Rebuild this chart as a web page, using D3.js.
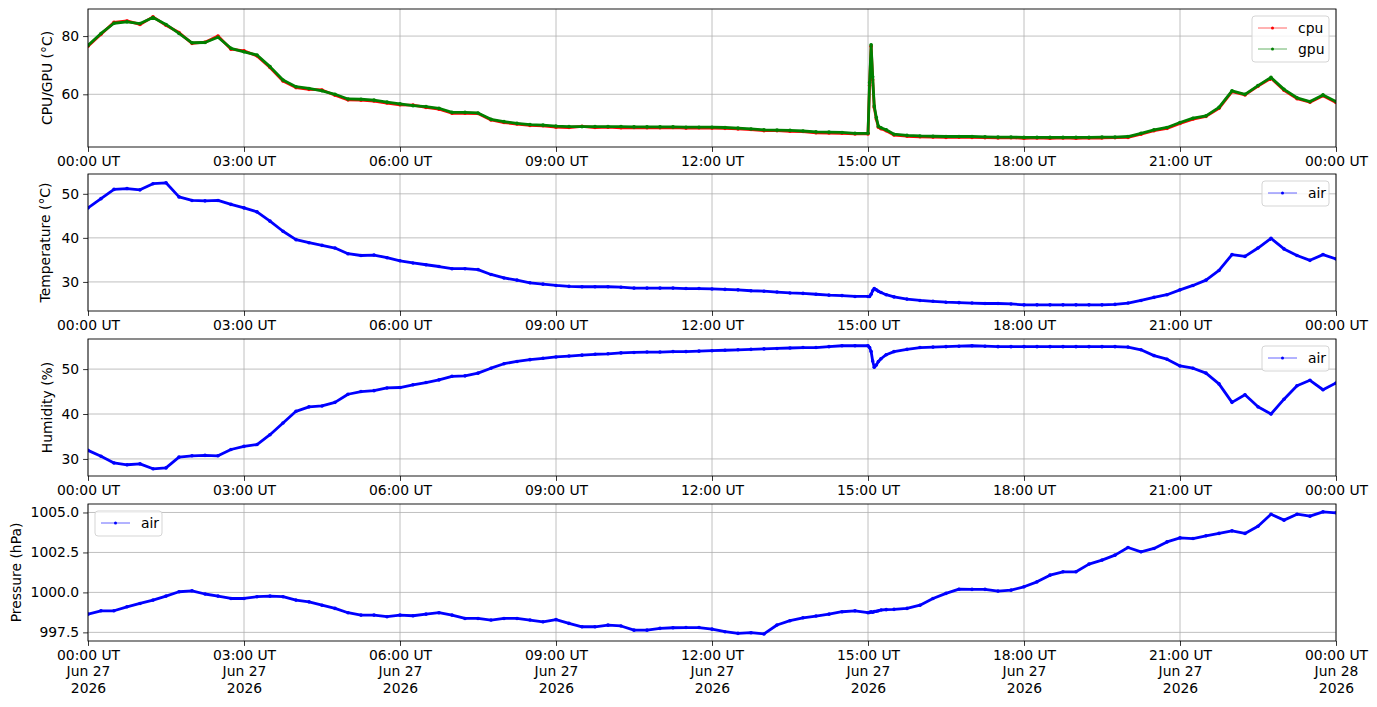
<!DOCTYPE html>
<html>
<head>
<meta charset="utf-8">
<script src="https://cdn.jsdelivr.net/npm/d3@7"></script>
<style>
  body { margin: 0; background: #fff; }
  svg text { font-family: "DejaVu Sans", sans-serif; font-size: 13.9px; fill: #000; }
  .grid line { stroke: #b0b0b0; stroke-width: 0.8; }
  .axis path.domain { display: none; }
  .axis line { stroke: #000; stroke-width: 0.8; }
</style>
</head>
<body>
<div id="chart"></div>
<script>
// sample times, hours after 00:00 UT on Jun 27 2026 (extra samples around the 15:00 spike)
const hours = [
  0, 0.25, 0.5, 0.75, 1, 1.25, 1.5, 1.75, 2, 2.25, 2.5, 2.75,
  3, 3.25, 3.5, 3.75, 4, 4.25, 4.5, 4.75, 5, 5.25, 5.5, 5.75,
  6, 6.25, 6.5, 6.75, 7, 7.25, 7.5, 7.75, 8, 8.25, 8.5, 8.75,
  9, 9.25, 9.5, 9.75, 10, 10.25, 10.5, 10.75, 11, 11.25, 11.5, 11.75,
  12, 12.25, 12.5, 12.75, 13, 13.25, 13.5, 13.75, 14, 14.25, 14.5, 14.75,
  15, 15.03, 15.06, 15.09, 15.12, 15.16, 15.2, 15.25, 15.35,
  15.5, 15.75,
  16, 16.25, 16.5, 16.75, 17, 17.25, 17.5, 17.75, 18, 18.25, 18.5, 18.75,
  19, 19.25, 19.5, 19.75, 20, 20.25, 20.5, 20.75, 21, 21.25, 21.5, 21.75,
  22, 22.25, 22.5, 22.75, 23, 23.25, 23.5, 23.75,
  24
]

const cpuTemp = [
  76.5, 80.6, 84.7, 85.2, 84.0, 86.6, 83.7, 81.2, 77.5, 77.9, 80.0, 75.5,
  74.9, 73.2, 69.2, 64.6, 62.3, 61.7, 61.5, 59.7, 58.1, 58.0, 57.7, 57.0,
  56.4, 56.3, 55.5, 54.9, 53.5, 53.5, 53.4, 51.2, 50.3, 49.8, 49.3, 49.2,
  48.7, 48.6, 49.0, 48.6, 48.7, 48.5, 48.6, 48.5, 48.5, 48.6, 48.4, 48.5,
  48.4, 48.3, 48.1, 47.9, 47.5, 47.5, 47.3, 47.2, 46.8, 46.7, 46.6, 46.4,
  46.4, 63.0, 76.5, 65.0, 55.5, 51.5, 48.7, 48.2, 47.5,
  46.0, 45.6,
  45.4, 45.3, 45.2, 45.3, 45.2, 45.1, 45.0, 45.1, 44.9, 45.0, 44.9, 45.0,
  44.9, 45.0, 45.0, 45.1, 45.2, 46.3, 47.5, 48.3, 50.0, 51.5, 52.4, 55.2,
  60.9, 59.8, 62.8, 65.5, 61.4, 58.5, 57.3, 59.5,
  57.2
]

const gpuTemp = [
  76.8, 80.9, 84.4, 84.9, 84.3, 86.4, 84.0, 80.9, 77.7, 77.8, 79.6, 75.8,
  74.6, 73.5, 69.5, 64.9, 62.6, 62.0, 61.2, 60.0, 58.4, 58.3, 58.0, 57.3,
  56.7, 56.1, 55.8, 55.2, 53.8, 53.8, 53.6, 51.4, 50.6, 50.0, 49.6, 49.4,
  49.1, 48.9, 48.9, 48.9, 48.9, 48.9, 48.8, 48.8, 48.8, 48.8, 48.7, 48.7,
  48.7, 48.6, 48.4, 48.1, 47.8, 47.7, 47.6, 47.4, 47.1, 47.0, 46.9, 46.6,
  46.6, 64.0, 77.0, 66.0, 56.0, 52.0, 49.0, 48.5, 47.8,
  46.3, 45.9,
  45.7, 45.6, 45.5, 45.5, 45.5, 45.4, 45.3, 45.3, 45.2, 45.2, 45.2, 45.2,
  45.2, 45.2, 45.3, 45.3, 45.5, 46.6, 47.8, 48.6, 50.3, 51.8, 52.6, 55.5,
  61.2, 60.0, 63.0, 65.8, 61.7, 58.8, 57.5, 59.8,
  57.5
]

const airTemp = [
  46.8, 48.9, 51.0, 51.2, 50.9, 52.3, 52.5, 49.3, 48.5, 48.4, 48.5, 47.6,
  46.8, 45.9, 43.8, 41.5, 39.6, 38.9, 38.3, 37.7, 36.4, 36.0, 36.1, 35.5,
  34.8, 34.3, 33.9, 33.5, 33.0, 33.0, 32.8, 31.7, 30.9, 30.4, 29.8, 29.5,
  29.2, 29.0, 28.9, 28.9, 28.9, 28.8, 28.6, 28.6, 28.6, 28.6, 28.5, 28.5,
  28.4, 28.3, 28.2, 28.0, 27.9, 27.7, 27.5, 27.4, 27.2, 27.0, 26.9, 26.7,
  26.7, 26.7, 27.2, 28.0, 28.5, 28.2, 27.9, 27.6, 27.1,
  26.6, 26.1,
  25.8, 25.6, 25.4, 25.3, 25.2, 25.1, 25.1, 25.0, 24.8, 24.8, 24.8, 24.8,
  24.8, 24.8, 24.8, 24.9, 25.2, 25.8, 26.5, 27.1, 28.2, 29.2, 30.4, 32.6,
  36.2, 35.8, 37.7, 39.9, 37.5, 36.0, 34.9, 36.2,
  35.2
]

const airHumidity = [
  31.9, 30.6, 29.1, 28.7, 28.9, 27.8, 28.0, 30.4, 30.7, 30.8, 30.7, 32.1,
  32.8, 33.2, 35.4, 38.0, 40.6, 41.6, 41.8, 42.6, 44.4, 45.0, 45.2, 45.8,
  45.9, 46.5, 47.0, 47.6, 48.4, 48.5, 49.1, 50.2, 51.2, 51.7, 52.1, 52.4,
  52.7, 52.9, 53.1, 53.3, 53.4, 53.6, 53.7, 53.8, 53.8, 53.9, 53.9, 54.0,
  54.1, 54.2, 54.3, 54.4, 54.5, 54.6, 54.7, 54.8, 54.8, 55.0, 55.2, 55.2,
  55.2, 54.8, 53.9, 51.8, 50.4, 50.9, 51.7, 52.3, 53.2,
  53.9, 54.4,
  54.8, 54.9, 55.0, 55.1, 55.2, 55.1, 55.0, 55.0, 55.0, 55.0, 55.0, 55.0,
  55.0, 55.0, 55.0, 55.0, 54.9, 54.3, 53.0, 52.2, 50.7, 50.2, 49.1, 46.7,
  42.6, 44.3, 41.6, 40.0, 43.3, 46.3, 47.5, 45.4,
  46.9
]

const airPressure = [
  998.64, 998.85, 998.85, 999.10, 999.31, 999.52, 999.77, 1000.04, 1000.10, 999.90, 999.77, 999.62,
  999.62, 999.73, 999.77, 999.73, 999.52, 999.41, 999.20, 999.00, 998.73, 998.58, 998.58, 998.48,
  998.58, 998.54, 998.64, 998.73, 998.58, 998.37, 998.37, 998.27, 998.37, 998.37, 998.27, 998.16,
  998.30, 998.06, 997.85, 997.85, 997.95, 997.90, 997.64, 997.64, 997.75, 997.79, 997.80, 997.80,
  997.70, 997.54, 997.44, 997.48, 997.40, 997.96, 998.23, 998.41, 998.52, 998.64, 998.79, 998.85,
  998.73, 998.75, 998.78, 998.76, 998.80, 998.82, 998.85, 998.90, 998.92,
  998.94, 999.00,
  999.20, 999.62, 999.94, 1000.20, 1000.19, 1000.19, 1000.08, 1000.14, 1000.35, 1000.66, 1001.08, 1001.29,
  1001.29, 1001.77, 1002.02, 1002.33, 1002.81, 1002.54, 1002.75, 1003.16, 1003.41, 1003.37, 1003.54, 1003.69,
  1003.85, 1003.69, 1004.14, 1004.89, 1004.52, 1004.89, 1004.77, 1005.04,
  1004.98
]

// x ticks every 3 hours, y ticks per panel
const tickHours = [0, 3, 6, 9, 12, 15, 18, 21, 24]
const cpuTicks = [60, 80],
      tempTicks = [30, 40, 50],
      humTicks = [30, 40, 50],
      presTicks = [997.5, 1000.0, 1002.5, 1005.0]

const W = 1377, H = 707,
      left = 88, right = 1336,
      tick = 4.9
const t0 = Date.UTC(2026, 5, 27)
const toDate = h => new Date(t0 + h * 3600e3)

const x = d3.scaleUtc()
  .domain([toDate(0), toDate(24)])
  .range([left, right])

const fmtTime = d3.utcFormat("%H:%M UT"),
      fmtDay = d3.utcFormat("%b %d"),
      fmtYear = d3.utcFormat("%Y")

const panels = [
  {top: 9, bottom: 147, domain: [41.9, 89.3], ticks: cpuTicks, fmt: d3.format("d"),
   label: "CPU/GPU (°C)", labelX: 47, legend: "right",
   series: [{name: "cpu", values: cpuTemp, color: "#ff0000"},
            {name: "gpu", values: gpuTemp, color: "#008000"}]},
  {top: 174, bottom: 311, domain: [23.4, 54.5], ticks: tempTicks, fmt: d3.format("d"),
   label: "Temperature (°C)", labelX: 45, legend: "right",
   series: [{name: "air", values: airTemp, color: "#0000ff"}]},
  {top: 339, bottom: 476, domain: [26.2, 56.7], ticks: humTicks, fmt: d3.format("d"),
   label: "Humidity (%)", labelX: 47, legend: "right",
   series: [{name: "air", values: airHumidity, color: "#0000ff"}]},
  {top: 504, bottom: 641, domain: [996.96, 1005.53], ticks: presTicks, fmt: d3.format(".1f"),
   label: "Pressure (hPa)", labelX: 16, legend: "left", dates: true,
   series: [{name: "air", values: airPressure, color: "#0000ff"}]}
]

const svg = d3.select("#chart").append("svg")
  .attr("width", W)
  .attr("height", H)

svg.append("rect").attr("width", W).attr("height", H).attr("fill", "#fff")

panels.forEach((p, i) => {
  const y = d3.scaleLinear().domain(p.domain).range([p.bottom, p.top])
  const g = svg.append("g")

  g.append("clipPath")
    .attr("id", "clip" + i)
    .append("rect")
    .attr("x", left).attr("y", p.top)
    .attr("width", right - left).attr("height", p.bottom - p.top)

  // grid
  const grid = g.append("g").attr("class", "grid")
  grid.selectAll(".gx").data(tickHours).join("line")
    .attr("x1", d => x(toDate(d))).attr("x2", d => x(toDate(d)))
    .attr("y1", p.top).attr("y2", p.bottom)
  grid.selectAll(".gy").data(p.ticks).join("line")
    .attr("x1", left).attr("x2", right)
    .attr("y1", d => y(d)).attr("y2", d => y(d))

  // series: line plus small point markers
  const plot = g.append("g").attr("clip-path", `url(#clip${i})`)
  p.series.forEach(s => {
    const pts = hours.map((h, k) => [toDate(h), s.values[k]])
    const line = d3.line().x(d => x(d[0])).y(d => y(d[1]))
    plot.append("path")
      .datum(pts)
      .attr("d", line)
      .attr("fill", "none")
      .attr("stroke", s.color)
      .attr("stroke-width", 2.8)
      .attr("stroke-linejoin", "round")
    plot.append("g").selectAll("circle").data(pts).join("circle")
      .attr("cx", d => x(d[0]))
      .attr("cy", d => y(d[1]))
      .attr("r", 1.8)
      .attr("fill", s.color)
  })

  // frame
  g.append("rect")
    .attr("x", left).attr("y", p.top)
    .attr("width", right - left).attr("height", p.bottom - p.top)
    .attr("fill", "none").attr("stroke", "#000").attr("stroke-width", 0.9)

  // axes
  const xAxis = g.append("g")
    .attr("class", "axis")
    .attr("transform", `translate(0,${p.bottom})`)
    .call(d3.axisBottom(x)
      .tickValues(tickHours.map(toDate))
      .tickFormat(fmtTime)
      .tickSize(tick)
      .tickPadding(tick - 1))
  xAxis.selectAll("text").attr("fill", "#000")
  if (p.dates) {
    xAxis.selectAll(".tick text").each(function(d) {
      const t = d3.select(this)
      t.text(null)
      t.append("tspan").attr("x", 0).text(fmtTime(d))
      t.append("tspan").attr("x", 0).attr("dy", "1.2em").text(fmtDay(d))
      t.append("tspan").attr("x", 0).attr("dy", "1.2em").text(fmtYear(d))
    })
  }

  g.append("g")
    .attr("class", "axis")
    .attr("transform", `translate(${left},0)`)
    .call(d3.axisLeft(y)
      .tickValues(p.ticks)
      .tickFormat(p.fmt)
      .tickSize(tick)
      .tickPadding(tick - 1))
    .selectAll("text").attr("fill", "#000")

  g.append("text")
    .attr("transform", `translate(${p.labelX},${(p.top + p.bottom) / 2}) rotate(-90)`)
    .attr("text-anchor", "middle")
    .attr("dominant-baseline", "central")
    .text(p.label)

  // legend
  const lw = p.series.length > 1 ? 77 : 67,
        lh = p.series.length > 1 ? 46 : 25,
        lx = p.legend === "right" ? right - 7 - lw : left + 7,
        ly = p.top + 7
  const lg = g.append("g").attr("transform", `translate(${lx},${ly})`)
  lg.append("rect")
    .attr("width", lw).attr("height", lh)
    .attr("rx", 3)
    .attr("fill", "#fff").attr("fill-opacity", 0.8)
    .attr("stroke", "#d5d5d5").attr("stroke-width", 1)
  p.series.forEach((s, k) => {
    const cy = 12 + k * 21
    lg.append("line")
      .attr("x1", 6).attr("x2", 35)
      .attr("y1", cy).attr("y2", cy)
      .attr("stroke", s.color).attr("stroke-opacity", 0.6).attr("stroke-width", 1)
    lg.append("circle")
      .attr("cx", 20.5).attr("cy", cy).attr("r", 1.5)
      .attr("fill", s.color)
    lg.append("text")
      .attr("x", 46).attr("y", cy)
      .attr("dominant-baseline", "central")
      .text(s.name)
  })
})
</script>
</body>
</html>
